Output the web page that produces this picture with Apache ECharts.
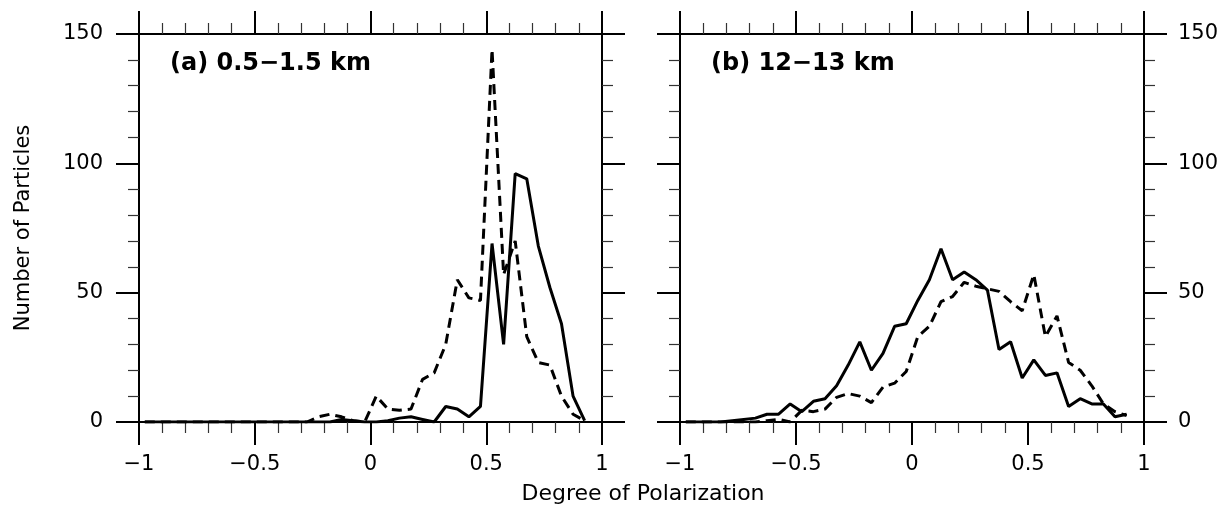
<!DOCTYPE html>
<html><head><meta charset="utf-8">
<script src="https://cdn.jsdelivr.net/npm/echarts@6/dist/echarts.min.js"></script>
<style>html,body{margin:0;padding:0;background:#fff}#c{width:1226px;height:511px}</style>
</head><body><div id="c"></div>
<script>
// Bin centres (Degree of Polarization)
const binCenters = [-0.975,-0.925,-0.875,-0.825,-0.775,-0.725,-0.675,-0.625,-0.575,-0.525,
  -0.475,-0.425,-0.375,-0.325,-0.275,-0.225,-0.175,-0.125,-0.075,-0.025,
  0.025,0.075,0.125,0.175,0.225,0.275,0.325,0.375,0.425,0.475,
  0.525,0.575,0.625,0.675,0.725,0.775,0.825,0.875,0.925];
// Panel (a) 0.5-1.5 km
const solidA = [0,0,0,0,0,0,0,0,0,0, 0,0,0,0,0,0,0,1,0.5,0,
  0,0.5,1.5,2,1,0,6,5,2,6, 69,30,96,94,68,52,38,10,0.5];
const dashedA = [0,0,0,0,0,0,0,0,0,0, 0,0,0,0,0,2,3,2,0.5,0,
  10,5,4.5,5,16.5,19,30,55,48,47, 144,57,70,33,23,22,10,3,0.5];
// Panel (b) 12-13 km
const solidB = [0,0,0,0,0.5,1,1.5,3,3,7, 4,8,9,14,22,31,20,26.5,37,38,
  47,55,67,55,58,55,51,28,31,17, 24,18,19,6,9,7,7,2,3];
const dashedB = [0,0,0,0,0,0,0,0.5,1,0, 4.5,4,5,9.5,11,10,7.5,13.5,15,19.5,
  33,37,46.5,48.5,54,52.5,51.5,50.5,46.5,43, 57,33,41,23,20,14,7,4,2.5];
const xTickValues = [-1,-0.5,0,0.5,1];
const yTickValues = [0,50,100,150];
const panelTitles = ['(a) 0.5\u22121.5 km', '(b) 12\u221213 km'];
const xAxisTitle = 'Degree of Polarization';
const yAxisTitle = 'Number of Particles';

const FONT = 'DejaVu Sans';
const fmt = v => String(v).replace('-', '\u2212');
const grids = [
  {left: 139, width: 463, top: 34, height: 388},
  {left: 680, width: 464, top: 34, height: 388}
];
function axisCommon() {
  return {
    axisLine: {show: true, onZero: false, lineStyle: {color: '#000', width: 2}},
    axisTick: {show: true, inside: false, length: 23, lineStyle: {color: '#000', width: 2}},
    minorTick: {show: true, splitNumber: 5, length: 11, lineStyle: {color: '#333', width: 1.2}},
    splitLine: {show: false},
    minorSplitLine: {show: false}
  };
}
const xAxes = [], yAxes = [];
grids.forEach((g, i) => {
  xAxes.push(Object.assign(axisCommon(), {
    type: 'value', gridIndex: i, position: 'bottom',
    min: xTickValues[0], max: xTickValues[xTickValues.length-1], interval: 0.5,
    axisLabel: {show: true, margin: 32, formatter: fmt, color: '#000', fontFamily: FONT, fontSize: 21}
  }));
  xAxes.push(Object.assign(axisCommon(), {
    type: 'value', gridIndex: i, position: 'top',
    min: xTickValues[0], max: xTickValues[xTickValues.length-1], interval: 0.5,
    axisLabel: {show: false}
  }));
  yAxes.push(Object.assign(axisCommon(), {
    type: 'value', gridIndex: i, position: 'left',
    min: yTickValues[0], max: yTickValues[yTickValues.length-1], interval: 50,
    axisLabel: {show: i === 0, margin: 36, color: '#000', fontFamily: FONT, fontSize: 21}
  }));
  yAxes.push(Object.assign(axisCommon(), {
    type: 'value', gridIndex: i, position: 'right',
    min: yTickValues[0], max: yTickValues[yTickValues.length-1], interval: 50,
    axisLabel: {show: i === 1, margin: 34, color: '#000', fontFamily: FONT, fontSize: 21}
  }));
});
const pair = arr => binCenters.map((x, i) => [x, arr[i]]);
function lineSeries(arr, gi, dashed) {
  return {
    type: 'line', xAxisIndex: gi * 2, yAxisIndex: gi * 2, data: pair(arr),
    symbol: 'none', silent: true, z: 3,
    lineStyle: {color: '#000', width: 3, type: dashed ? [10, 6] : 'solid'}
  };
}
const chart = echarts.init(document.getElementById('c'), null, {renderer: 'canvas'});
chart.setOption({
  animation: false,
  backgroundColor: '#fff',
  grid: grids,
  xAxis: xAxes,
  yAxis: yAxes,
  series: [
    lineSeries(dashedA, 0, true), lineSeries(solidA, 0, false),
    lineSeries(dashedB, 1, true), lineSeries(solidB, 1, false)
  ],
  graphic: [
    {type: 'text', left: 170, top: 52, style: {text: panelTitles[0], font: 'bold 24px "DejaVu Sans"', fill: '#000'}},
    {type: 'text', left: 711, top: 52, style: {text: panelTitles[1], font: 'bold 24px "DejaVu Sans"', fill: '#000'}},
    {type: 'text', x: 643, y: 494, style: {text: xAxisTitle, font: '22px "DejaVu Sans"', fill: '#000', align: 'center', verticalAlign: 'middle'}},
    {type: 'text', x: 24, y: 228, rotation: Math.PI / 2, style: {text: yAxisTitle, font: '21px "DejaVu Sans"', fill: '#000', align: 'center', verticalAlign: 'middle'}}
  ]
});
</script></body></html>
